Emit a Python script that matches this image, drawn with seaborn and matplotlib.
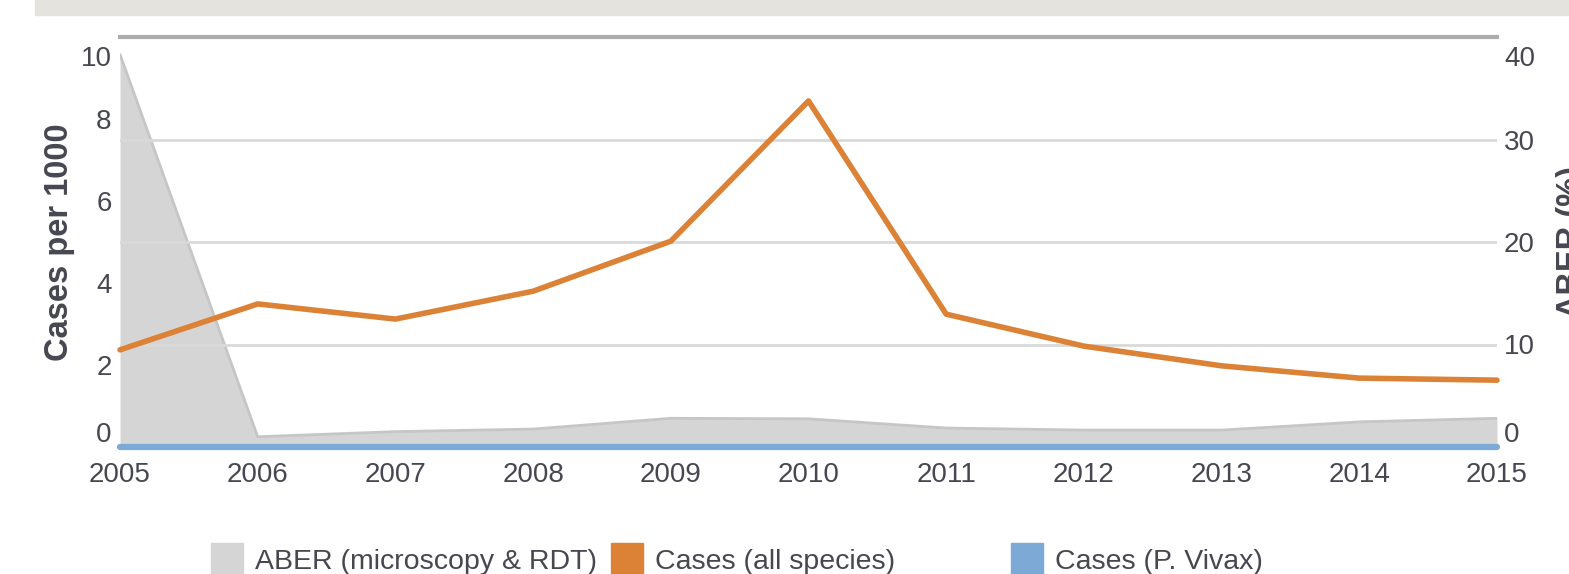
import numpy as np
import matplotlib
matplotlib.use("Agg")
import matplotlib.pyplot as plt
import matplotlib.patches as mpatches
from matplotlib.transforms import ScaledTranslation
import seaborn as sns

# values
years = [2005, 2006, 2007, 2008, 2009, 2010, 2011, 2012, 2013, 2014, 2015]
aber_pct = [38.3, 1.0, 1.5, 1.75, 2.8, 2.75, 1.85, 1.65, 1.65, 2.45, 2.8]
cases_all = [2.37, 3.49, 3.12, 3.80, 5.02, 8.44, 3.24, 2.46, 1.98, 1.68, 1.63]
cases_vivax = [0, 0, 0, 0, 0, 0, 0, 0, 0, 0, 0]

left_ticks = [0, 2, 4, 6, 8, 10]
right_ticks = [0, 10, 20, 30, 40]

legend_labels = ["ABER (microscopy & RDT)", "Cases (all species)", "Cases (P. Vivax)"]

GREY_FILL = "#d5d5d5"
GREY_EDGE = "#c6c6c6"
ORANGE = "#db8236"
BLUE = "#7da9d6"
TEXT = "#474752"

sns.set_theme(style="white")
plt.rcParams["font.family"] = ["Liberation Sans", "DejaVu Sans"]

W, H = 1569, 574
fig = plt.figure(figsize=(W / 100, H / 100), dpi=100)

# grey title bar at the top (cut off)
fig.patches.append(mpatches.Rectangle((35 / W, 1 - 15 / H), 1 - 35 / W, 15 / H,
                                      transform=fig.transFigure, color="#e5e3de", zorder=0))

ax = fig.add_axes([120 / W, 1 - 447 / H, (1497 - 120) / W, (447 - 37) / H])
ax2 = ax.twinx()

# ABER area on the main axes (right scale)
ax.fill_between(years, aber_pct, 0, color=GREY_FILL, lw=0, zorder=1)
sns.lineplot(x=years, y=aber_pct, ax=ax, color=GREY_EDGE, lw=2, zorder=2)
ax.set_ylim(0, 40)
ax.set_xlim(2005, 2015)
ax.set_yticks(right_ticks)
ax.yaxis.tick_right()
ax.yaxis.set_label_position("right")
ax.set_ylabel("ABER (%)", fontsize=23.5, fontweight="bold", color=TEXT, labelpad=15)
ax.set_axisbelow(False)  # grid lines run over the grey area
ax.grid(axis="y", color="#d9d9d9", lw=2)
ax.grid(axis="x", visible=False)
ax.tick_params(axis="both", length=0, labelsize=20, labelcolor=TEXT)
ax.tick_params(axis="y", pad=5)
ax.tick_params(axis="x", pad=11)
ax.set_xticks(years)
ax.set_xticklabels([str(y) for y in years])
for s in ["left", "right"]:
    ax.spines[s].set_visible(False)
ax.spines["top"].set_color("#acacac")
ax.spines["top"].set_linewidth(3)
ax.spines["top"].set_zorder(5)
ax.spines["bottom"].set_color("#cccccc")
ax.spines["bottom"].set_linewidth(2)

# cases on the twin axis (left scale)
sns.lineplot(x=years, y=cases_all, ax=ax2, color=ORANGE, lw=4, zorder=3)
sns.lineplot(x=years, y=cases_vivax, ax=ax2, color=BLUE, lw=4.5, zorder=4)
for ln in ax2.lines:
    ln.set_clip_on(False)
    ln.set_solid_capstyle("round")
ax2.set_ylim(0, 10)
ax2.set_yticks(left_ticks)
ax2.yaxis.tick_left()
ax2.yaxis.set_label_position("left")
ax2.set_ylabel("Cases per 1000", fontsize=23.5, fontweight="bold", color=TEXT, labelpad=4)
ax2.tick_params(axis="y", length=0, labelsize=20, labelcolor=TEXT, pad=6)
ax2.grid(False)
for s in ax2.spines.values():
    s.set_visible(False)

# end labels pulled inside the plot area
def nudge(labels, top_txt, bot_txt):
    for lab in labels:
        t = lab.get_text()
        if t == top_txt:
            lab.set_transform(lab.get_transform() + ScaledTranslation(0, -0.19, fig.dpi_scale_trans))
        elif t == bot_txt:
            lab.set_transform(lab.get_transform() + ScaledTranslation(0, 0.15, fig.dpi_scale_trans))

nudge(ax2.get_yticklabels(), "10", "0")
nudge(ax.get_yticklabels(), "40", "0")

# legend, three items on a fixed 400 px pitch like the reference
colors = [GREY_FILL, ORANGE, BLUE]
xpos = [211 / W, 611 / W, 1011 / W]
for lab, col, x in zip(legend_labels, colors, xpos):
    h = mpatches.Patch(color=col, label=lab)
    fig.legend(handles=[h], loc="center left", bbox_to_anchor=(x, 1 - 559 / H),
               frameon=False, fontsize=20.5, handlelength=1.12, handleheight=1.3,
               handletextpad=0.42, labelcolor=TEXT, borderaxespad=0, borderpad=0)

fig.savefig("out.png", dpi=100)
